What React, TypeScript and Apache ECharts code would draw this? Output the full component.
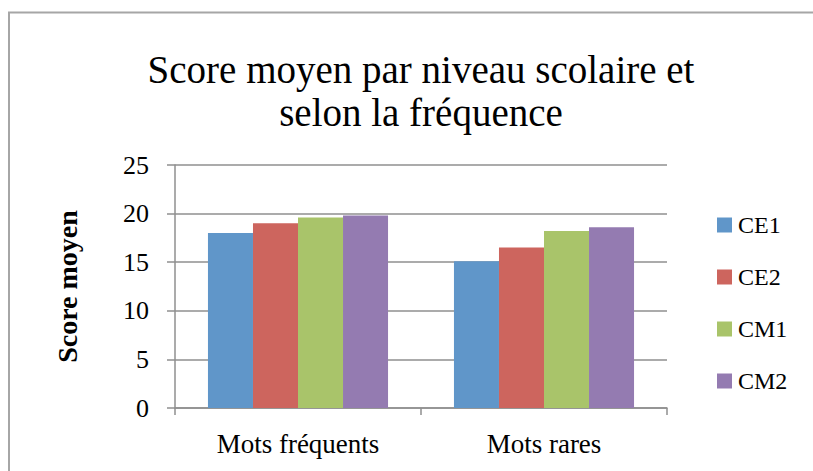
import React, { useEffect, useRef } from "react";
import * as echarts from "echarts";

const categories = ["Mots fréquents", "Mots rares"];
const seriesNames = ["CE1", "CE2", "CM1", "CM2"];
const ce1 = [18.0, 15.1];
const ce2 = [19.0, 16.5];
const cm1 = [19.6, 18.2];
const cm2 = [19.8, 18.6];
const seriesValues = [ce1, ce2, cm1, cm2];
const colors = ["#6096C9", "#CD655E", "#A9C46A", "#947BB1"];
const titleText = "Score moyen par niveau scolaire et\nselon la fréquence";
const yAxisTitle = "Score moyen";

const FONT = "'Liberation Serif', 'DejaVu Serif', serif";

export default function App() {
  const ref = useRef<HTMLDivElement>(null);
  useEffect(() => {
    if (!ref.current) return;
    const chart = echarts.init(ref.current, null, { renderer: "svg" });
    chart.setOption({
      animation: false,
      backgroundColor: "#ffffff",
      textStyle: { fontFamily: FONT },
      title: {
        text: titleText,
        left: 416,
        top: 43,
        textAlign: "center",
        textStyle: {
          fontFamily: FONT,
          fontSize: 39,
          fontWeight: "normal",
          color: "#000",
          lineHeight: 43,
        },
      },
      legend: {
        orient: "vertical",
        left: 712,
        top: 208,
        itemWidth: 15,
        itemHeight: 15,
        itemGap: 28,
        icon: "rect",
        data: seriesNames,
        textStyle: { fontFamily: FONT, fontSize: 24, color: "#000", padding: [0, 0, 0, 1] },
      },
      grid: { left: 175, right: 146, top: 165, bottom: 63, containLabel: false },
      xAxis: {
        type: "category",
        data: categories,
        axisLine: { show: true, lineStyle: { color: "#8f8f8f", width: 1.5 } },
        axisTick: { show: true, length: 7, lineStyle: { color: "#8f8f8f", width: 1.5 } },
        axisLabel: { fontFamily: FONT, fontSize: 27, color: "#000", margin: 22 },
      },
      yAxis: {
        type: "value",
        min: 0,
        max: 25,
        interval: 5,
        name: yAxisTitle,
        nameLocation: "middle",
        nameGap: 94,
        nameTextStyle: { fontFamily: FONT, fontSize: 28, fontWeight: "bold", color: "#000" },
        axisLine: { show: true, lineStyle: { color: "#8f8f8f", width: 1.5 } },
        axisTick: { show: true, length: 8, lineStyle: { color: "#8f8f8f", width: 1.5 } },
        axisLabel: { fontFamily: FONT, fontSize: 26, color: "#000", margin: 26 },
        splitLine: { show: true, lineStyle: { color: "#8f8f8f", width: 1.5 } },
      },
      series: seriesNames.map((name, i) => ({
        name,
        type: "bar",
        data: seriesValues[i],
        barGap: "0%",
        barCategoryGap: "26.8%",
        itemStyle: { color: colors[i] },
      })),
      graphic: [
        {
          type: "polyline",
          shape: { points: [[9, 471], [9, 12.5], [813, 12.5]] },
          style: { stroke: "#a6a6a6", lineWidth: 2, fill: "none" },
          silent: true,
        },
      ],
    });
    return () => chart.dispose();
  }, []);
  return (
    <div
      ref={ref}
      style={{ position: "absolute", left: 0, top: 0, width: 813, height: 471 }}
    />
  );
}
